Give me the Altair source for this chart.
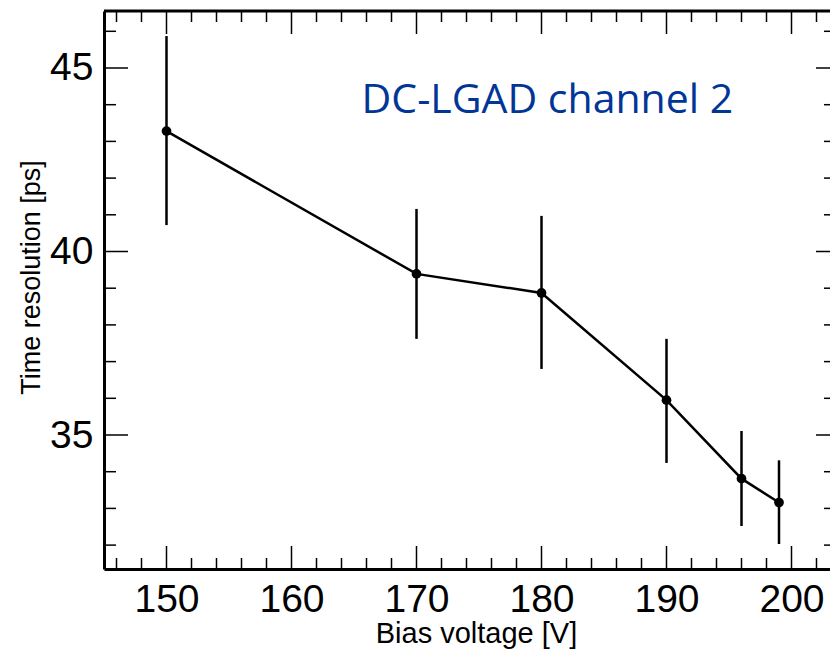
import altair as alt
import pandas as pd

# Data
voltage = [150, 170, 180, 190, 196, 199]
resolution = [43.28, 39.39, 38.87, 35.95, 33.81, 33.16]
err_low = [40.72, 37.62, 36.80, 34.24, 32.52, 32.03]
err_high = [45.87, 41.16, 40.97, 37.62, 35.11, 34.31]

x_major = [150, 160, 170, 180, 190, 200]
x_minor = [146, 148, 152, 154, 156, 158, 162, 164, 166, 168, 172, 174, 176, 178,
           182, 184, 186, 188, 192, 194, 196, 198, 202]
y_major = [35, 40, 45]
y_minor = [32, 33, 34, 36, 37, 38, 39, 41, 42, 43, 44, 46]

label_text = ["DC-LGAD channel 2"]
label_x = [180.47]
label_y = [43.78]

W = 726
H = 558
FONT = "Liberation Sans"

df = pd.DataFrame({"v": voltage, "r": resolution, "lo": err_low, "hi": err_high})

xs = alt.Scale(domain=[145, 145 + W / 12.5], nice=False, zero=False)
ys = alt.Scale(domain=[31.349, 46.553], nice=False, zero=False)

X = alt.X("v:Q", scale=xs,
          axis=alt.Axis(values=x_major, ticks=False, grid=False, labelFontSize=39,
                        labelFont=FONT, labelColor="black", labelPadding=11,
                        domainColor="black", domainWidth=3,
                        title="Bias voltage [V]", titleFont=FONT, titleFontSize=29,
                        titleFontWeight="normal", titleColor="black",
                        titleBaseline="alphabetic", titleY=73, titleX=372,
                        titleAnchor="start", titleAlign="center"))
Y = alt.Y("r:Q", scale=ys,
          axis=alt.Axis(values=y_major, ticks=False, grid=False, labelFontSize=39,
                        labelFont=FONT, labelColor="black", labelPadding=11,
                        domainColor="black", domainWidth=3,
                        title="Time resolution [ps]", titleFont=FONT, titleFontSize=27,
                        titleFontWeight="normal", titleColor="black",
                        titleBaseline="alphabetic", titleAngle=270, titleX=-65,
                        titleY=266, titleAnchor="start", titleAlign="center"))

base = alt.Chart(df)
line = base.mark_line(color="black", strokeWidth=2.5).encode(x=X, y=Y)
errs = base.mark_rule(color="black", strokeWidth=2.5).encode(
    x=alt.X("v:Q", scale=xs), y=alt.Y("lo:Q", scale=ys), y2="hi:Q")
pts = base.mark_circle(color="black", size=95, opacity=1).encode(
    x=alt.X("v:Q", scale=xs), y=alt.Y("r:Q", scale=ys))

def xticks(vals, length, top):
    d = pd.DataFrame({"t": vals})
    if top:
        yv, y2v = alt.value(0), alt.value(length)
    else:
        yv, y2v = alt.value(H), alt.value(H - length)
    return alt.Chart(d).mark_rule(color="black", strokeWidth=1.5).encode(
        x=alt.X("t:Q", scale=xs), y=yv, y2=y2v)

def yticks(vals, length, right):
    d = pd.DataFrame({"t": vals})
    if right:
        xv, x2v = alt.value(W), alt.value(W - length)
    else:
        xv, x2v = alt.value(0), alt.value(length)
    return alt.Chart(d).mark_rule(color="black", strokeWidth=1.5).encode(
        y=alt.Y("t:Q", scale=ys), x=xv, x2=x2v)

tick_layers = [
    xticks(x_major, 23, False), xticks(x_minor, 11, False),
    xticks(x_major, 23, True), xticks(x_minor, 11, True),
    yticks(y_major, 24, False), yticks(y_minor, 12, False),
    yticks(y_major, 14, True), yticks(y_minor, 6, True),
]

top_border = alt.Chart(pd.DataFrame({"a": [0]})).mark_rule(
    color="black", strokeWidth=3).encode(
    x=alt.value(0), x2=alt.value(W), y=alt.value(0))

label = alt.Chart(pd.DataFrame({"x": label_x, "y": label_y, "t": label_text})).mark_text(
    font="Open Sans", fontSize=41, color="#023696", align="center",
    baseline="alphabetic").encode(
    x=alt.X("x:Q", scale=xs), y=alt.Y("y:Q", scale=ys), text="t:N")

chart = alt.layer(line, errs, pts, *tick_layers, top_border, label).properties(
    width=W, height=H,
    autosize=alt.AutoSizeParams(type="none"),
    padding={"left": 96, "top": 3, "right": 0, "bottom": 81},
).configure_view(stroke=None).configure(background="white")

chart.save("out.html", embed_options={"renderer": "svg", "actions": False})
